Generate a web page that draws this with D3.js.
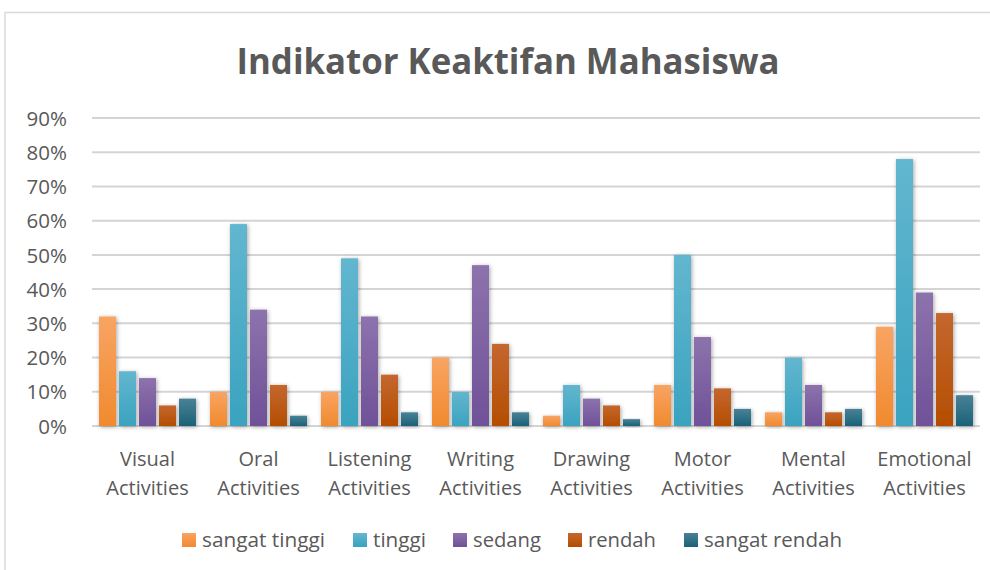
<!DOCTYPE html>
<html>
<head>
<meta charset="utf-8">
<script src="https://cdn.jsdelivr.net/npm/d3@7"></script>
<style>
  body { margin: 0; background: #fff; }
  text { font-family: "Open Sans", "Noto Sans", sans-serif; fill: #595959; }
</style>
</head>
<body>
<div id="chart"></div>
<script>
// Data
const categories = [
    ["Visual", "Activities"], ["Oral", "Activities"], ["Listening", "Activities"],
    ["Writing", "Activities"], ["Drawing", "Activities"], ["Motor", "Activities"],
    ["Mental", "Activities"], ["Emotional", "Activities"]
];
const seriesNames = ["sangat tinggi", "tinggi", "sedang", "rendah", "sangat rendah"];
const sangatTinggi = [32, 10, 10, 20, 3, 12, 4, 29];
const tinggi = [16, 59, 49, 10, 12, 50, 20, 78];
const sedang = [14, 34, 32, 47, 8, 26, 12, 39];
const rendah = [6, 12, 15, 24, 6, 11, 4, 33];
const sangatRendah = [8, 3, 4, 4, 2, 5, 5, 9];
const yTicks = [0, 10, 20, 30, 40, 50, 60, 70, 80, 90];

const seriesValues = [sangatTinggi, tinggi, sedang, rendah, sangatRendah];
const colors = [
    ["#f9a463", "#f08a2e"],
    ["#63b6cf", "#3aa3bf"],
    ["#8d73ad", "#6f5198"],
    ["#c4672f", "#b54d00"],
    ["#4a8196", "#1a6278"]
];

const width = 990;
const height = 570;
const plot = { left: 92, right: 980, top: 118, bottom: 426 };

const svg = d3.select("#chart").append("svg")
    .attr("width", width)
    .attr("height", height);

const defs = svg.append("defs");
colors.forEach((c, i) => {
    const g = defs.append("linearGradient")
        .attr("id", "grad" + i)
        .attr("x1", 0).attr("y1", 0).attr("x2", 0).attr("y2", 1);
    g.append("stop").attr("offset", "0%").attr("stop-color", c[0]);
    g.append("stop").attr("offset", "100%").attr("stop-color", c[1]);
});
const shadow = defs.append("filter").attr("id", "shadow")
    .attr("x", "-30%").attr("y", "-10%").attr("width", "160%").attr("height", "130%");
shadow.append("feDropShadow")
    .attr("dx", 1).attr("dy", 1).attr("stdDeviation", 2)
    .attr("flood-color", "#000").attr("flood-opacity", 0.35);

// Chart border
svg.append("rect")
    .attr("x", 5).attr("y", 12.5)
    .attr("width", 1000).attr("height", 600)
    .attr("fill", "none")
    .attr("stroke", "#d9d9d9")
    .attr("stroke-width", 1.5);

// Title
svg.append("text")
    .attr("x", 508)
    .attr("y", 74)
    .attr("text-anchor", "middle")
    .style("font-size", "35px")
    .style("font-weight", "bold")
    .attr("textLength", 543)
    .attr("lengthAdjust", "spacingAndGlyphs")
    .text("Indikator Keaktifan Mahasiswa");

// Scales
const x0 = d3.scaleBand()
    .domain(d3.range(categories.length))
    .range([plot.left, plot.right]);

const x1 = d3.scaleBand()
    .domain(d3.range(seriesNames.length))
    .range([0, x0.bandwidth()])
    .paddingInner(0.15)
    .paddingOuter(0.35);

const y = d3.scaleLinear()
    .domain([0, 90])
    .range([plot.bottom, plot.top]);

// Gridlines
svg.append("g")
    .selectAll("line")
    .data(yTicks)
    .join("line")
    .attr("x1", plot.left)
    .attr("x2", plot.right)
    .attr("y1", d => y(d))
    .attr("y2", d => y(d))
    .attr("stroke", "#d4d4d4")
    .attr("stroke-width", 2);

// Y axis labels
const yAxis = svg.append("g")
    .attr("transform", `translate(${plot.left - 25},0)`)
    .call(d3.axisLeft(y).tickValues(yTicks).tickFormat(d => d + "%").tickSize(0).tickPadding(0));
yAxis.select(".domain").remove();
yAxis.selectAll("text")
    .style("font-size", "20.5px")
    .attr("fill", "#595959")
    .attr("dy", "0.35em");

// Bars
const groups = svg.append("g")
    .selectAll("g")
    .data(categories)
    .join("g")
    .attr("transform", (d, i) => `translate(${x0(i)},0)`);

groups.selectAll("rect")
    .data((d, i) => seriesValues.map((vals, s) => ({ s: s, v: vals[i] })))
    .join("rect")
    .attr("x", d => x1(d.s))
    .attr("width", x1.bandwidth())
    .attr("y", d => y(d.v))
    .attr("height", d => y(0) - y(d.v))
    .attr("fill", d => `url(#grad${d.s})`)
    .attr("filter", "url(#shadow)");

// Category labels
const xLabels = svg.append("g");
categories.forEach((lines, i) => {
    const t = xLabels.append("text")
        .attr("x", x0(i) + x0.bandwidth() / 2)
        .attr("y", 466)
        .attr("text-anchor", "middle")
        .style("font-size", "20px");
    lines.forEach((line, k) => {
        t.append("tspan")
            .attr("x", x0(i) + x0.bandwidth() / 2)
            .attr("dy", k === 0 ? 0 : 29)
            .text(line);
    });
});

// Legend
const legendX = [182, 353, 453, 568, 684];
const legendW = [123, 53, 68, 68, 138];
const legend = svg.append("g");
seriesNames.forEach((name, s) => {
    legend.append("rect")
        .attr("x", legendX[s])
        .attr("y", 533)
        .attr("width", 14)
        .attr("height", 14)
        .attr("fill", `url(#grad${s})`);
    legend.append("text")
        .attr("x", legendX[s] + 20)
        .attr("y", 547)
        .style("font-size", "20.5px")
        .attr("textLength", legendW[s])
        .attr("lengthAdjust", "spacingAndGlyphs")
        .text(name);
});
</script>
</body>
</html>
